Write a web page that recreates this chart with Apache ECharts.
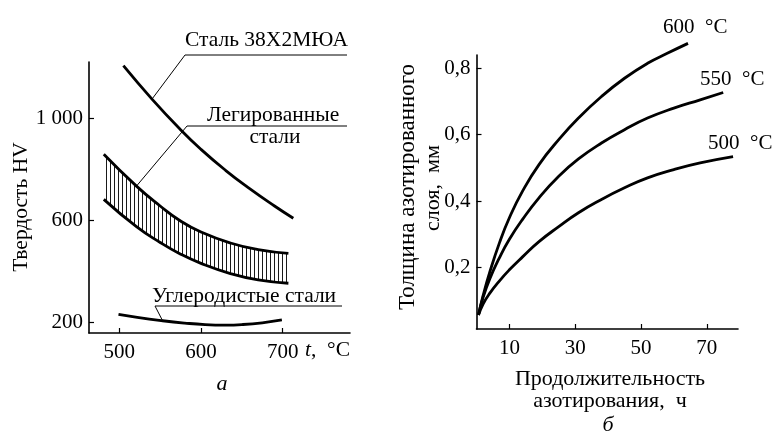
<!DOCTYPE html>
<html><head><meta charset="utf-8">
<script src="https://cdn.jsdelivr.net/npm/echarts@6/dist/echarts.min.js"></script>
<style>html,body{margin:0;padding:0;background:#fff}#c{width:776px;height:436px}</style>
</head><body><div id="c"></div>
<script>
// ---- Panel "а": hardness HV vs nitriding temperature t, °C ----
const steel38_t = [505, 540, 575, 600, 630, 660, 690, 713];
const steel38_hv = [1205, 1074, 954, 877, 795, 722, 655, 607];
const alloyed_t = [481, 521, 550, 574, 600, 636, 670, 707];
const alloyedUpper_hv = [858, 733, 655, 598, 553, 510, 484, 469];
const alloyedLower_hv = [681, 574, 512, 468, 430, 390, 365, 352];
const carbon_t = [499, 522, 553, 580, 605, 630, 650, 675, 699];
const carbon_hv = [230, 218, 205, 196, 190, 188, 190, 197, 208];
const hvTicks = [200, 600, 1000];
const tTicks = [500, 600, 700];

// ---- Panel "б": nitrided layer depth (mm) vs duration (h) ----
const hours600 = [0.6, 2, 4, 7, 10, 14, 19, 25, 31, 38, 45, 52, 58, 64.3];
const depth600 = [0.057, 0.115, 0.185, 0.275, 0.35, 0.43, 0.51, 0.585, 0.65, 0.715, 0.77, 0.815, 0.845, 0.875];
const hours550 = [0.6, 2, 4, 7, 10, 14, 19, 25, 31, 38, 45, 52, 60, 68, 75];
const depth550 = [0.057, 0.11, 0.165, 0.23, 0.285, 0.345, 0.41, 0.475, 0.527, 0.575, 0.615, 0.65, 0.68, 0.705, 0.727];
const hours500 = [0.6, 2, 4, 7, 10, 14, 19, 25, 31, 38, 45, 52, 60, 68, 78];
const depth500 = [0.057, 0.09, 0.122, 0.16, 0.193, 0.232, 0.278, 0.323, 0.365, 0.405, 0.44, 0.47, 0.495, 0.515, 0.534];
const depthTicks = [0.2, 0.4, 0.6, 0.8];
const hourTicks = [10, 30, 50, 70];

const FONT = '"Liberation Serif", "DejaVu Serif", serif';
const FS = 21;
const zip = (a, b) => a.map((v, i) => [v, b[i]]);

// vertical hatching tile
const pat = document.createElement('canvas');
pat.width = 4; pat.height = 4;
const pg = pat.getContext('2d');
pg.fillStyle = '#1a1a1a';
pg.fillRect(2, 0, 1, 4);

const axLine = { show: true, onZero: false, lineStyle: { color: '#000', width: 1.6 } };
function xAx(grid, min, max, ticks, fmt) {
  return {
    gridIndex: grid, type: 'value', min: min, max: max, z: 5,
    axisLine: axLine,
    axisTick: { show: true, inside: true, length: 5, customValues: ticks, lineStyle: { color: '#000', width: 1.2 } },
    axisLabel: { customValues: ticks, color: '#000', fontFamily: FONT, fontSize: FS, margin: 9, formatter: fmt },
    splitLine: { show: false }
  };
}
function yAx(grid, min, max, ticks, fmt) {
  return {
    gridIndex: grid, type: 'value', min: min, max: max, z: 5,
    axisLine: axLine,
    axisTick: { show: true, inside: true, length: 5, customValues: ticks, lineStyle: { color: '#000', width: 1.2 } },
    axisLabel: { customValues: ticks, color: '#000', fontFamily: FONT, fontSize: FS, margin: 6, formatter: fmt },
    splitLine: { show: false }
  };
}
const lineBase = { type: 'line', symbol: 'none', smooth: 0.5, clip: false,
  lineStyle: { color: '#000', width: 2.8 }, silent: true, animation: false };

const chart = echarts.init(document.getElementById('c'), null, { renderer: 'canvas' });
chart.setOption({
  animation: false,
  backgroundColor: '#fff',
  grid: [
    { left: 89, top: 62, width: 261, height: 271 },
    { left: 476.5, top: 55, width: 261.5, height: 274 }
  ],
  xAxis: [
    xAx(0, 462.9, 782.4, tTicks, v => String(v)),
    xAx(1, 0, 79.5, hourTicks, v => String(v))
  ],
  yAxis: [
    yAx(0, 157, 1219.6, hvTicks, v => v >= 1000 ? String(v).replace(/(\d)(\d{3})$/, '$1 $2') : String(v)),
    yAx(1, 0.0148, 0.84, depthTicks, v => v.toFixed(1).replace('.', ','))
  ],
  series: [
    Object.assign({}, lineBase, { name: 'alloyedUpper', xAxisIndex: 0, yAxisIndex: 0, z: 2,
      data: zip(alloyed_t, alloyedUpper_hv), areaStyle: { color: { image: pat, repeat: 'repeat' }, opacity: 1 } }),
    Object.assign({}, lineBase, { name: 'alloyedLower', xAxisIndex: 0, yAxisIndex: 0, z: 2,
      data: zip(alloyed_t, alloyedLower_hv), areaStyle: { color: '#fff', opacity: 1 } }),
    Object.assign({}, lineBase, { name: 'steel38', xAxisIndex: 0, yAxisIndex: 0, z: 3,
      data: zip(steel38_t, steel38_hv) }),
    Object.assign({}, lineBase, { name: 'carbon', xAxisIndex: 0, yAxisIndex: 0, z: 3,
      data: zip(carbon_t, carbon_hv) }),
    Object.assign({}, lineBase, { name: '600', xAxisIndex: 1, yAxisIndex: 1, z: 3, data: zip(hours600, depth600) }),
    Object.assign({}, lineBase, { name: '550', xAxisIndex: 1, yAxisIndex: 1, z: 3, data: zip(hours550, depth550) }),
    Object.assign({}, lineBase, { name: '500', xAxisIndex: 1, yAxisIndex: 1, z: 3, data: zip(hours500, depth500) })
  ]
});

// annotation anchors taken from the data through the chart's own scales
const p = (grid, pt) => chart.convertToPixel({ gridIndex: grid }, pt);
const aSteel = p(0, [steel38_t[1], steel38_hv[1]]);
const aAlloy = p(0, [alloyed_t[1], alloyedUpper_hv[1]]);
const aCarbon = p(0, [carbon_t[2], carbon_hv[2]]);

function txt(text, x, y, opts) {
  opts = opts || {};
  const size = opts.size || FS;
  return {
    type: 'text', x: x, y: y, rotation: opts.rot || 0, z: 10, silent: true,
    style: {
      text: text, fill: '#000', font: (opts.italic ? 'italic ' : '') + size + 'px ' + FONT,
      textAlign: opts.align || 'left', textVerticalAlign: 'middle', rich: opts.rich
    }
  };
}
function leader(points) {
  return { type: 'polyline', z: 10, silent: true, shape: { points: points }, style: { stroke: '#000', lineWidth: 1, fill: null } };
}

chart.setOption({
  graphic: [
    txt('Сталь 38Х2МЮА', 185, 40, { size: 21.5 }),
    leader([[347, 55], [185, 55], aSteel]),
    txt('Легированные', 207, 115, { size: 21.5 }),
    txt('стали', 275, 137, { align: 'center', size: 21.5 }),
    leader([[347, 126], [187, 126], aAlloy]),
    txt('Углеродистые стали', 152, 296, { size: 21.5 }),
    leader([[342, 306], [155, 306], aCarbon]),
    txt('{i|t},  °C', 305, 350, { size: 21.5, rich: { i: { fontStyle: 'italic', fontFamily: FONT, fontSize: 21.5 } } }),
    txt('а', 222, 384, { italic: true, align: 'center', size: 22 }),
    txt('Твердость HV', 21, 207, { rot: Math.PI / 2, align: 'center', size: 21.5 }),

    txt('600  °C', 663, 27),
    txt('550  °C', 700, 79),
    txt('500  °C', 708, 143),
    txt('Толщина азотированного', 408, 187, { rot: Math.PI / 2, align: 'center', size: 23 }),
    txt('слоя,  мм', 433, 188, { rot: Math.PI / 2, align: 'center', size: 22 }),
    txt('Продолжительность', 610, 379, { align: 'center', size: 22 }),
    txt('азотирования,  ч', 610, 401, { align: 'center', size: 22 }),
    txt('б', 608, 425, { italic: true, align: 'center', size: 22 })
  ]
});
</script>
</body></html>
